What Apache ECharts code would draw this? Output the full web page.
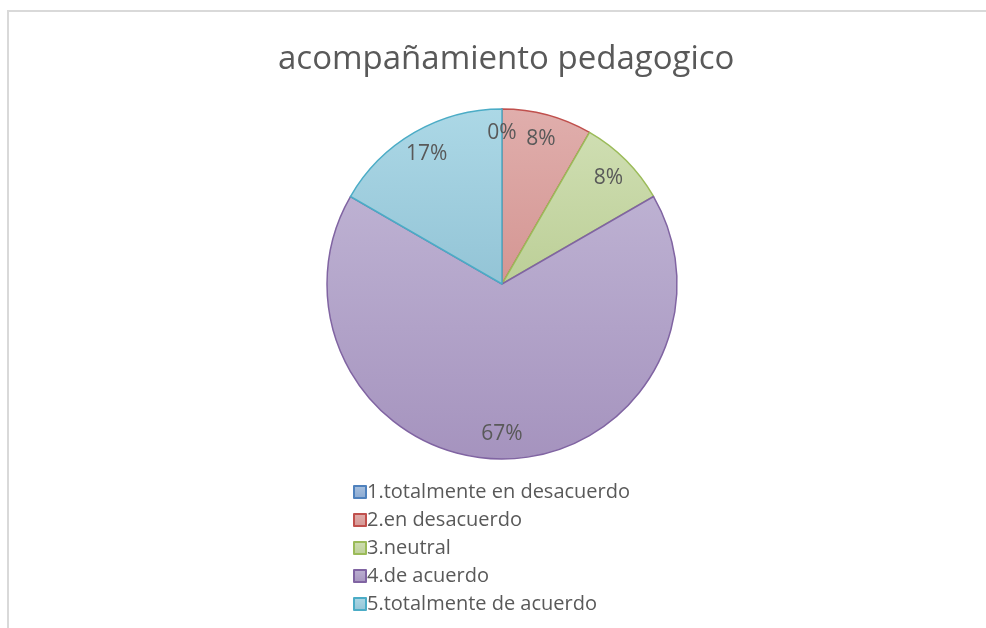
<!DOCTYPE html>
<html>
<head>
<meta charset="utf-8">
<script src="https://cdn.jsdelivr.net/npm/echarts@6/dist/echarts.min.js"></script>
<style>
  html, body { margin: 0; padding: 0; background: #fff; }
  #frame { position: absolute; left: 7px; top: 10px; width: 979px; height: 618px;
           border-left: 2px solid #d9d9d9; border-top: 2px solid #d9d9d9; box-sizing: border-box; }
  #chart { position: absolute; left: 0; top: 0; width: 986px; height: 628px; }
</style>
</head>
<body>
<div id="frame"></div>
<div id="chart"></div>
<script>
var titleText = 'acompañamiento pedagogico';
var categories = ['1.totalmente en desacuerdo', '2.en desacuerdo', '3.neutral', '4.de acuerdo', '5.totalmente de acuerdo'];
var counts = [0, 1, 1, 8, 2];
var fillTop = ['#a9c1df', '#e0aeac', '#cfdeb2', '#bdb1d2', '#acd8e6'];
var fillBottom = ['#8aa9d1', '#d49693', '#bccf97', '#a593be', '#93c4d6'];
var borders = ['#4f81bd', '#c0504d', '#9bbb59', '#8064a2', '#4bacc6'];

var font = '"Open Sans", "Noto Sans", sans-serif';
var total = counts.reduce(function (a, b) { return a + b; }, 0);

// 饼图数据
var pieData = categories.map(function (name, i) {
  return {
    name: name,
    value: counts[i],
    itemStyle: {
      color: new echarts.graphic.LinearGradient(0, 0, 0, 1, [
        {offset: 0, color: fillTop[i]},
        {offset: 1, color: fillBottom[i]}
      ]),
      borderColor: borders[i],
      borderWidth: 1.5
    }
  };
});

var chart = echarts.init(document.getElementById('chart'));
chart.setOption({
  animation: false,
  title: {
    text: titleText,
    left: 273,
    top: 38,
    textStyle: {fontFamily: font, fontSize: 33, fontWeight: 'normal', color: '#595959'}
  },
  legend: {
    orient: 'vertical',
    left: 348,
    top: 476,
    itemWidth: 12,
    itemHeight: 12,
    itemGap: 6,
    icon: 'rect',
    data: categories,
    textStyle: {fontFamily: font, fontSize: 20, lineHeight: 22, color: '#595959', padding: [0, 0, 0, -4]}
  },
  series: [
    {
      type: 'pie',
      center: [502, 284],
      radius: [0, 175],
      startAngle: 90,
      clockwise: true,
      data: pieData,
      label: {show: false},
      labelLine: {show: false},
      emphasis: {disabled: true}
    },
    {
      // 标签层
      type: 'pie',
      center: [502, 284],
      radius: [120, 175],
      startAngle: 90,
      clockwise: true,
      silent: true,
      data: categories.map(function (name, i) {
        return {name: name, value: counts[i], itemStyle: {color: 'rgba(0,0,0,0)', borderWidth: 0}};
      }),
      label: {
        show: true,
        position: 'inner',
        fontFamily: font,
        fontSize: 21,
        color: '#595959',
        formatter: function (p) { return Math.round(p.value / total * 100) + '%'; }
      },
      labelLine: {show: false},
      emphasis: {disabled: true}
    }
  ]
});
</script>
</body>
</html>
